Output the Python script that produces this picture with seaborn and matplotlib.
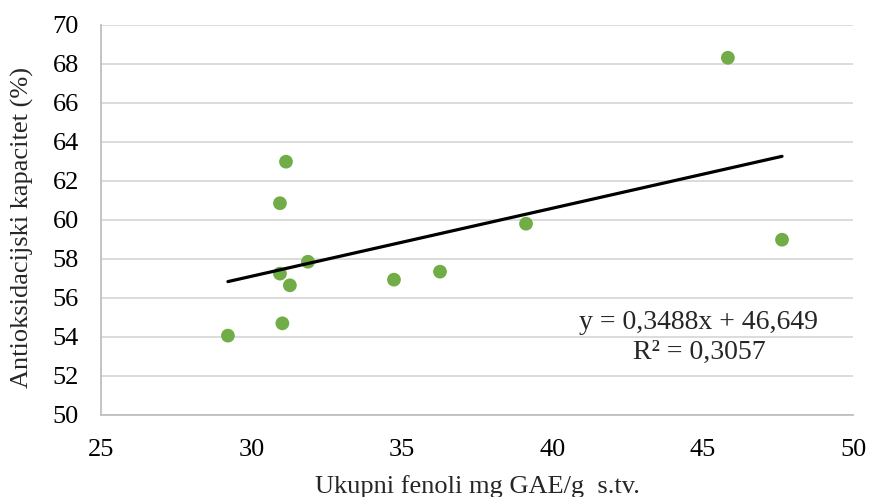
import numpy as np
import pandas as pd
import matplotlib
matplotlib.use("Agg")
import matplotlib.pyplot as plt
import seaborn as sns

# Total phenols (mg GAE/g d.w.) and antioxidant capacity (%)
fenoli = [29.22, 30.95, 30.95, 31.03, 31.15, 31.28, 31.88, 34.74, 36.27, 39.13, 45.84, 47.64]
kapacitet = [54.07, 60.86, 57.25, 54.70, 62.99, 56.65, 57.86, 56.94, 57.35, 59.81, 68.32, 58.99]

# Linear trend parameters
slope = 0.3488
intercept = 46.649
r2 = 0.3057

x_ticks = [25, 30, 35, 40, 45, 50]
y_ticks = [50, 52, 54, 56, 58, 60, 62, 64, 66, 68, 70]

df = pd.DataFrame({"x": fenoli, "y": kapacitet})
x_line = np.array([min(fenoli), max(fenoli)])
trend = pd.DataFrame({"x": x_line, "y": slope * x_line + intercept})

sns.set_theme(style="white")
plt.rcParams["font.family"] = ["Liberation Serif", "DejaVu Serif"]

fig = plt.figure(figsize=(8.69, 4.97), dpi=100)
ax = fig.add_axes([0.1162, 0.165, 0.8654, 0.7847])

ax.set_xlim(25, 50)
ax.set_ylim(50, 70)
ax.set_xticks(x_ticks)
ax.set_yticks(y_ticks)
ax.grid(axis="y", color="#d9d9d9", linewidth=1.3)
ax.set_axisbelow(True)

sns.scatterplot(data=df, x="x", y="y", ax=ax, color="#70ad47", s=98,
                edgecolor="none", zorder=3)
sns.lineplot(data=trend, x="x", y="y", ax=ax, color="black", linewidth=2.3,
             zorder=4, solid_capstyle="round")

for side in ["top", "right"]:
    ax.spines[side].set_visible(False)
for side in ["left", "bottom"]:
    ax.spines[side].set_color("#bfbfbf")
    ax.spines[side].set_linewidth(1.3)

ax.tick_params(axis="both", length=0, labelsize=19, colors="black")
ax.tick_params(axis="x", pad=17)
ax.tick_params(axis="y", pad=16)

ax.set_xlabel("Ukupni fenoli mg GAE/g  s.tv.", fontsize=19)
ax.set_ylabel("Antioksidacijski kapacitet (%)", fontsize=19)
ax.xaxis.label.set_va("center")
ax.xaxis.set_label_coords(0.5, -0.1846)
ax.yaxis.label.set_va("center")
ax.yaxis.label.set_rotation_mode("anchor")
ax.yaxis.set_label_coords(-0.105, 0.48)

eq = f"y = {slope:.4f}x + {intercept:.3f}".replace(".", ",")
rr = f"R² = {r2:.4f}".replace(".", ",")
ax.text(44.88, 54.72, eq, fontsize=20, ha="center", va="center")
ax.text(44.88, 53.23, rr, fontsize=20, ha="center", va="center")

fig.savefig("out.png", dpi=100)
